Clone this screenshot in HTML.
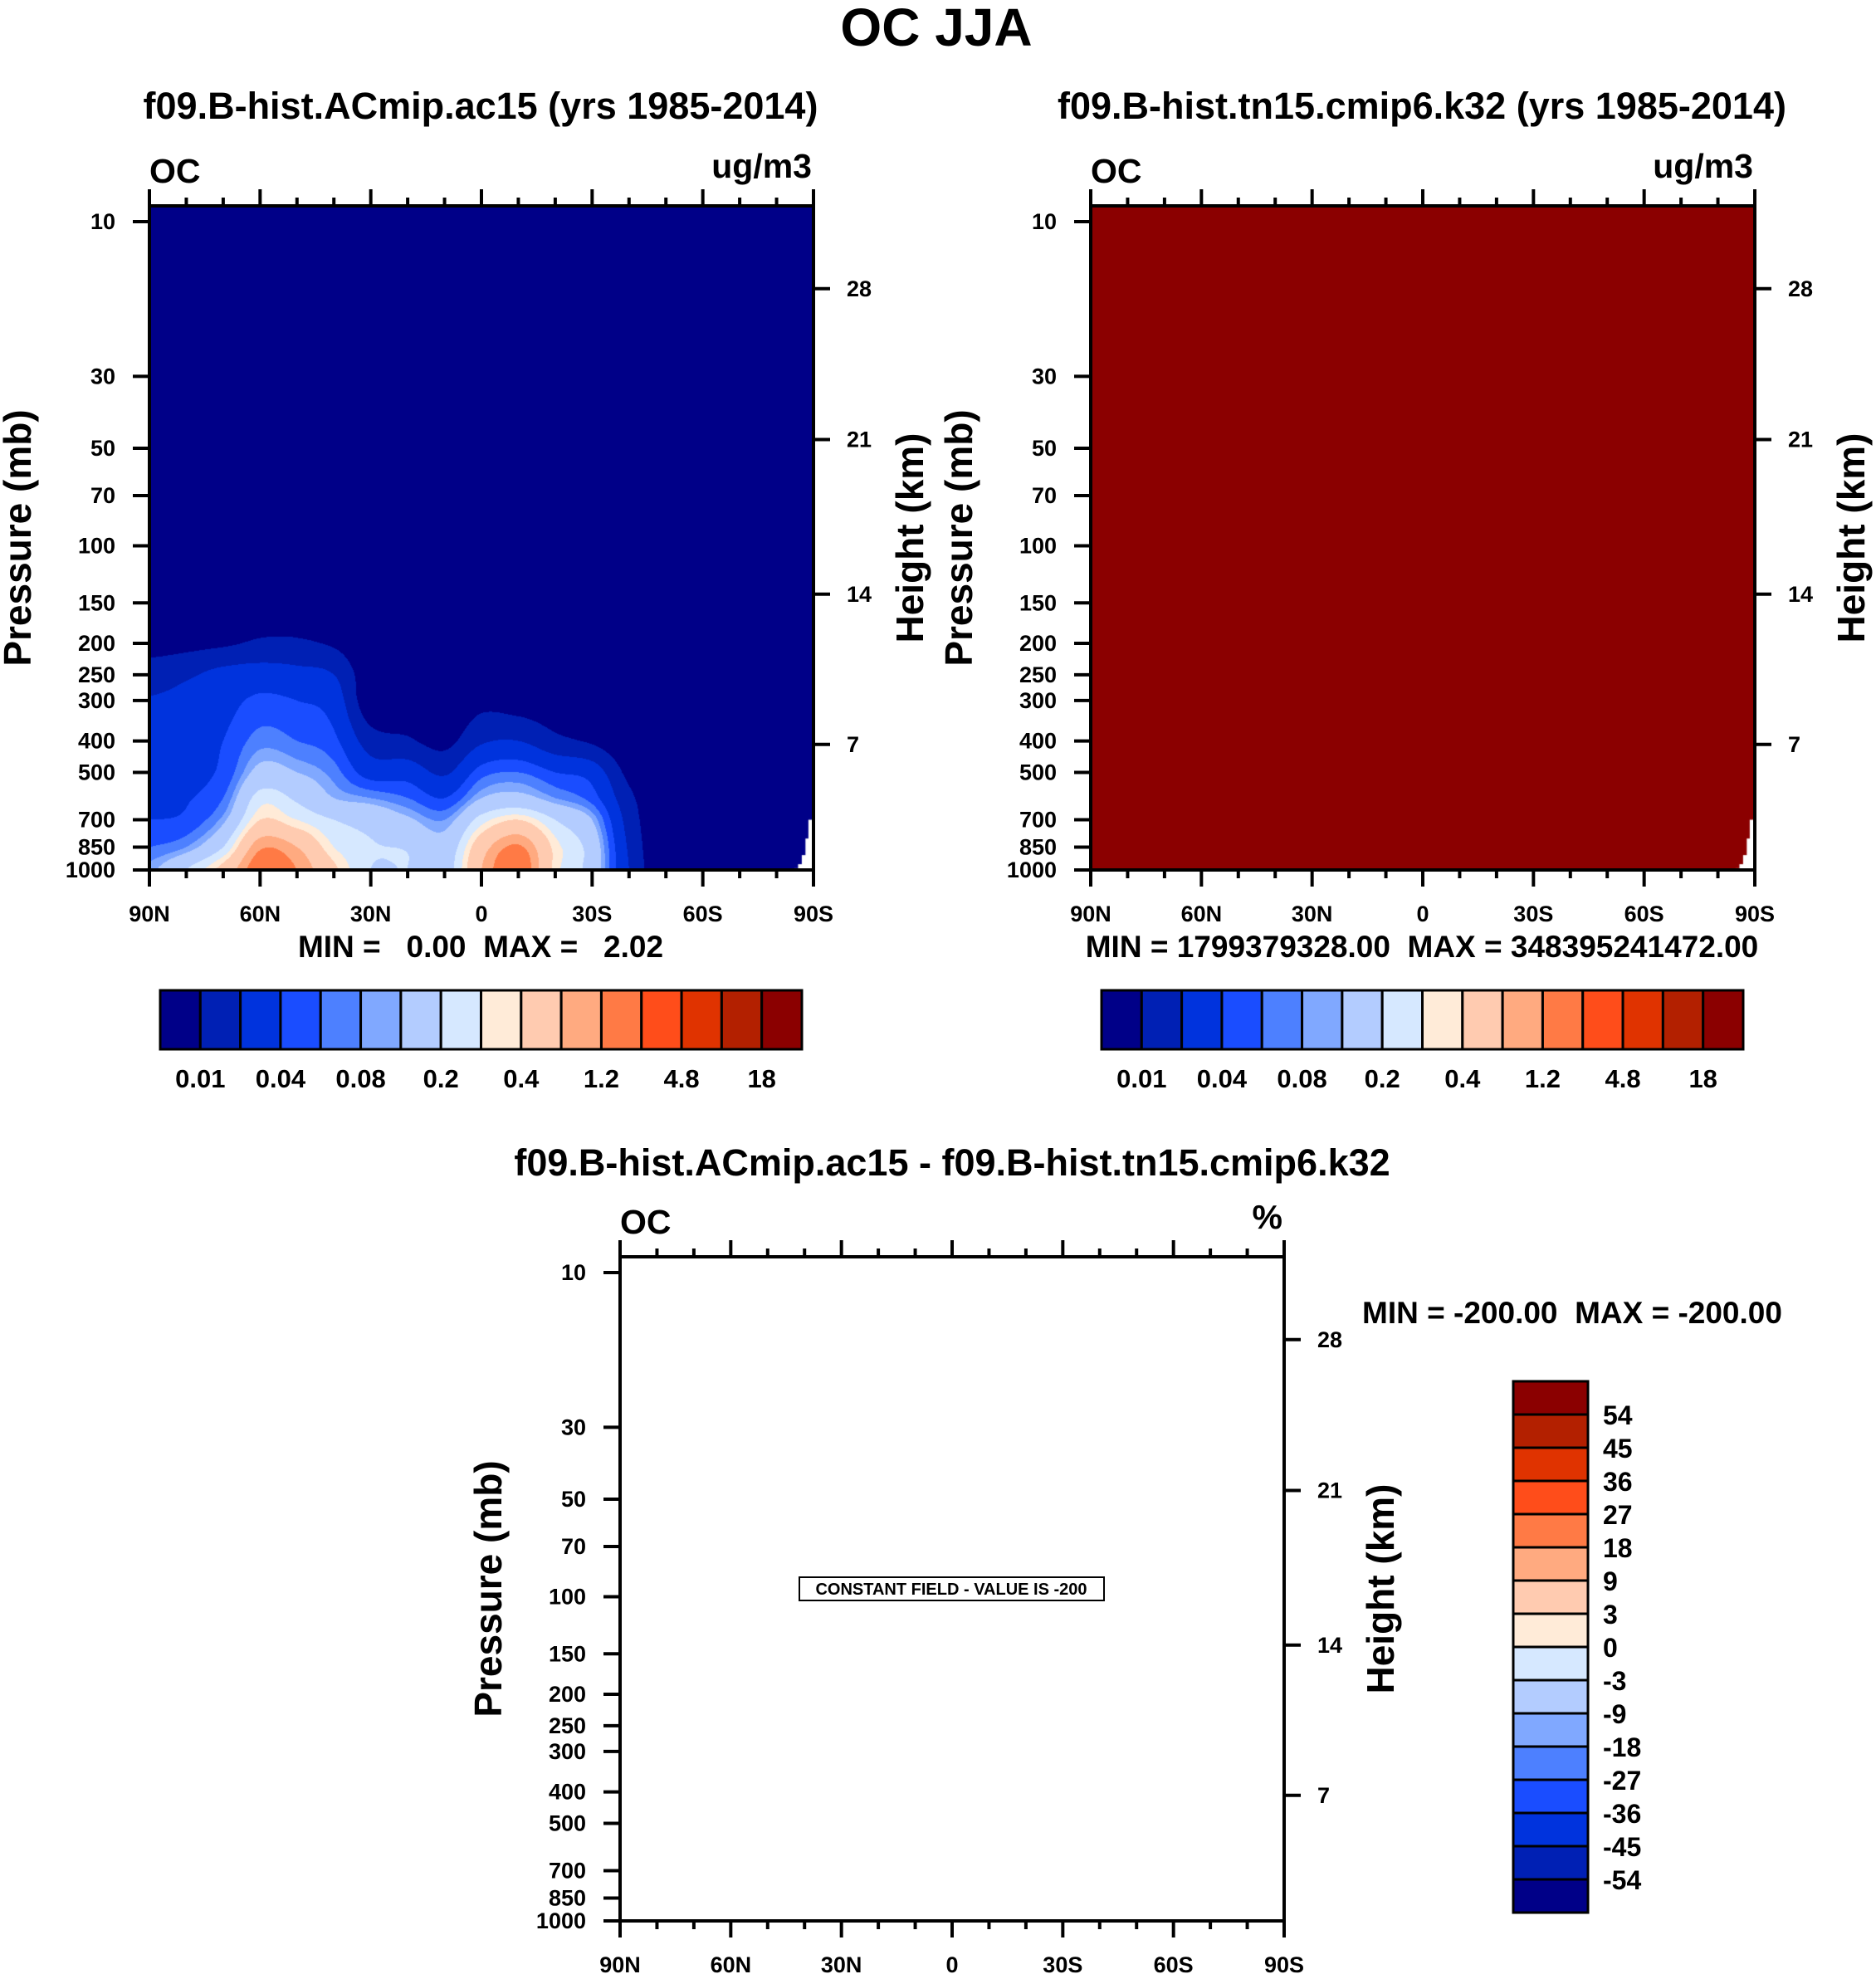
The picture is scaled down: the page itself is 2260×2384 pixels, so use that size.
<!DOCTYPE html>
<html><head><meta charset="utf-8">
<style>
html,body{margin:0;padding:0;background:#fff;}
body{width:2260px;height:2384px;position:relative;overflow:hidden;font-family:"Liberation Sans",sans-serif;}
canvas{position:absolute;}
svg{position:absolute;left:0;top:0;}
svg text{font-family:"Liberation Sans",sans-serif;font-weight:bold;fill:#000;white-space:pre;}
</style></head>
<body>
<canvas id="c1" width="800" height="800" style="left:180px;top:248px"></canvas>
<canvas id="c2" width="800" height="800" style="left:1314px;top:248px"></canvas>
<svg id="s" width="2260" height="2384" xmlns="http://www.w3.org/2000/svg"></svg>
<script>
// ---- data ----
const lats = [90,80,70,60,50,40,30,20,10,0,-10,-20,-30,-40,-50,-60,-70,-80,-90];
const levels = [10,100,150,200,250,300,400,500,600,700,850,1000];
const v10   = [0.001,0.001,0.001,0.001,0.001,0.001,0.001,0.001,0.001,0.001,0.001,0.001,0.001,0.001,0.001,0.001,0.001,0.001,0.001];
const v100  = [0.003,0.003,0.003,0.003,0.003,0.003,0.003,0.003,0.003,0.003,0.003,0.003,0.003,0.003,0.003,0.003,0.003,0.003,0.003];
const v150  = [0.004,0.005,0.005,0.006,0.006,0.005,0.004,0.004,0.004,0.004,0.004,0.004,0.004,0.003,0.003,0.003,0.003,0.003,0.003];
const v200  = [0.007,0.008,0.009,0.011,0.011,0.009,0.005,0.005,0.004,0.004,0.004,0.004,0.004,0.003,0.003,0.003,0.003,0.003,0.003];
const v250  = [0.015,0.018,0.025,0.028,0.025,0.02,0.006,0.005,0.004,0.005,0.005,0.004,0.004,0.003,0.003,0.003,0.003,0.003,0.003];
const v300  = [0.021,0.024,0.032,0.045,0.04,0.03,0.006,0.006,0.005,0.008,0.007,0.006,0.005,0.004,0.003,0.003,0.003,0.003,0.003];
const v400  = [0.028,0.03,0.04,0.07,0.06,0.045,0.014,0.011,0.008,0.018,0.02,0.012,0.009,0.005,0.003,0.003,0.003,0.003,0.003];
const v500  = [0.03,0.033,0.045,0.12,0.1,0.07,0.03,0.03,0.018,0.05,0.06,0.04,0.03,0.008,0.004,0.004,0.004,0.004,0.004];
const v600  = [0.035,0.038,0.06,0.25,0.18,0.1,0.08,0.06,0.04,0.1,0.12,0.08,0.05,0.012,0.005,0.005,0.005,0.005,0.005];
const v700  = [0.04,0.045,0.09,0.4,0.3,0.2,0.16,0.11,0.08,0.25,0.4,0.2,0.1,0.015,0.005,0.005,0.005,0.005,0.005];
const v850  = [0.06,0.08,0.2,1.1,0.8,0.3,0.21,0.19,0.13,0.6,1.3,0.35,0.15,0.018,0.005,0.005,0.005,0.005,0.005];
const v1000 = [0.09,0.2,0.5,1.7,1.2,0.45,0.2,0.2,0.15,0.8,1.9,0.35,0.15,0.02,0.005,0.005,0.005,0.005,0.005];
const thresholds = [0.01,0.02,0.04,0.06,0.08,0.1,0.2,0.3,0.4,0.8,1.2,2,4.8,10,18];
const cbLabels = ["0.01","0.04","0.08","0.2","0.4","1.2","4.8","18"];
const diffLabels = ["54","45","36","27","18","9","3","0","-3","-9","-18","-27","-36","-45","-54"];
const colors = ["#000088","#0020b4","#0033dd","#1a4dff","#4d80ff","#80a8ff","#b3ccff","#d6e8ff","#ffebd8","#ffcbb0","#ffaa80","#ff7a45","#ff4d1a","#e03300","#b32000","#8b0000"];
const yTicks = [10,30,50,70,100,150,200,250,300,400,500,700,850,1000];
const hTicksKm = [7,14,21,28];
const hTicksP = [410,141,47,16.1];
const xTickLats = [90,60,30,0,-30,-60,-90];
const xTickLabels = ["90N","60N","30N","0","30S","60S","90S"];
const missLat = [-85.5,-86.5,-87.5,-88.5,-89.3];
const missTopP = [990,960,900,800,700];
const rows = [v10,v100,v150,v200,v250,v300,v400,v500,v600,v700,v850,v1000];

const NS="http://www.w3.org/2000/svg";
const svg=document.getElementById('s');
function el(tag,attrs,parent){const e=document.createElementNS(NS,tag);for(const k in attrs)e.setAttribute(k,attrs[k]);(parent||svg).appendChild(e);return e;}
function txt(x,y,s,size,anchor,extra){const t=el('text',Object.assign({x:x,y:y,'font-size':size,'text-anchor':anchor||'middle'},extra||{}));t.textContent=s;return t;}

const W=800,H=800,DEC=390.5;
function yOf(p,top){return top+H-(3-Math.log10(p))*DEC;}
function xOf(lat,left){return left+(90-lat)/180*W;}
function pOfY(py){return Math.pow(10,3-(H-py)/DEC);}

function classify(v){let i=0;while(i<thresholds.length&&v>=thresholds[i])i++;return i;}
const logRows=rows.map(r=>r.map(v=>Math.log(v)));
const logLev=levels.map(p=>Math.log10(p));
function cr(p0,p1,p2,p3,t){return 0.5*((2*p1)+(-p0+p2)*t+(2*p0-5*p1+4*p2-p3)*t*t+(-p0+3*p1-3*p2+p3)*t*t*t);}
function rowAt(j,i,fx){const n=lats.length-1;const g=k=>logRows[j][Math.max(0,Math.min(n,k))];
  return cr(g(i-1),g(i),g(i+1),g(i+2),fx);}
function field(lat,p){
  let fl=(90-lat)/10;let i=Math.min(17,Math.max(0,Math.floor(fl)));let fx=fl-i;
  const lp=Math.log10(Math.max(p,10));
  let j=0;while(j<levels.length-2&&logLev[j+1]<lp)j++;
  let fy=Math.min(1,Math.max(0,(lp-logLev[j])/(logLev[j+1]-logLev[j])));
  const m=levels.length-1;const r=k=>rowAt(Math.max(0,Math.min(m,k)),i,fx);
  return Math.exp(cr(r(j-1),r(j),r(j+1),r(j+2),fy));
}
function hexRgb(h){return [parseInt(h.substr(1,2),16),parseInt(h.substr(3,2),16),parseInt(h.substr(5,2),16)];}
const rgb=colors.map(hexRgb);
function drawMissing(ctx){
  ctx.fillStyle="#fff";
  for(let k=0;k<missLat.length;k++){
    const x0=(90-missLat[k])/180*W-3;
    const y0=yOf(missTopP[k],0);
    ctx.fillRect(x0,y0,W-x0,H-y0);
  }
}
(function(){
  const ctx=document.getElementById('c1').getContext('2d');
  const img=ctx.createImageData(W,H);
  for(let py=0;py<H;py++){const p=pOfY(py+0.5);
    for(let px=0;px<W;px++){const lat=90-(px+0.5)/W*180;
      const c=rgb[classify(field(lat,p))];const o=(py*W+px)*4;
      img.data[o]=c[0];img.data[o+1]=c[1];img.data[o+2]=c[2];img.data[o+3]=255;}}
  ctx.putImageData(img,0,0);drawMissing(ctx);
})();
(function(){
  const ctx=document.getElementById('c2').getContext('2d');
  ctx.fillStyle=colors[15];ctx.fillRect(0,0,W,H);drawMissing(ctx);
})();

function drawAxes(left,top,name,unit,panel){
  const g=el('g',{});
  
  
  el('rect',{x:left,y:top,width:W,height:H,fill:'none',stroke:'#000','stroke-width':4},g);
  for(let lat=90;lat>=-90;lat-=10){
    const x=xOf(lat,left);const major=(lat%30===0);const L=major?20:10;
    el('line',{x1:x,y1:top,x2:x,y2:top-L,stroke:'#000','stroke-width':4},g);
    el('line',{x1:x,y1:top+H,x2:x,y2:top+H+L,stroke:'#000','stroke-width':4},g);
  }
  xTickLats.forEach((lat,i)=>{const t=txt(xOf(lat,left),top+H+62,xTickLabels[i],27,'middle');
    
    });
  yTicks.forEach(p=>{const y=yOf(p,top);
    el('line',{x1:left,y1:y,x2:left-20,y2:y,stroke:'#000','stroke-width':4},g);
    const t=txt(left-41,y+9,String(p),27,'end');
    
    });
  hTicksP.forEach((p,i)=>{const y=yOf(p,top);
    el('line',{x1:left+W,y1:y,x2:left+W+20,y2:y,stroke:'#000','stroke-width':4},g);
    const t=txt(left+W+40,y+9,String(hTicksKm[i]),27,'start');
    
    });
  const a=txt(left,top-28,name,41,'start');
  
  
  const u=txt(left+W-2,top-34,unit,41,'end');
  
  
  const yl=txt(0,0,'Pressure (mb)',46,'middle',{transform:`translate(${left-143},${top+H/2}) rotate(-90)`});
  
  
  const hl=txt(0,0,'Height (km)',46,'middle',{transform:`translate(${left+W+132},${top+H/2}) rotate(-90)`});
  
  
}
drawAxes(180,248,'OC','ug/m3','left');
drawAxes(1314,248,'OC','ug/m3','right');
drawAxes(747,1514,'OC','%','bottom');

function hColorbar(left,top,panel){
  const bw=(966-193)/16;
  colors.forEach((c,i)=>{const r=el('rect',{x:left+i*bw,y:top,width:bw,height:71,fill:c,stroke:'#000','stroke-width':3});
    
    });
  cbLabels.forEach((s,k)=>{const t=txt(left+(2*k+1)*bw,top+117,s,31,'middle');
    
    });
}
hColorbar(193,1193,'left');
hColorbar(1327,1193,'right');
(function(){
  const bh=40;
  for(let i=0;i<16;i++){const r=el('rect',{x:1823,y:1664+i*bh,width:90,height:bh,fill:colors[15-i],stroke:'#000','stroke-width':3});
    
    }
  diffLabels.forEach((s,k)=>{const t=txt(1931,1664+(k+1)*bh+12,s,32,'start');
    
    });
})();
el('rect',{x:963,y:1900,width:367,height:28,fill:'#fff',stroke:'#000','stroke-width':2});
const cf=txt(1146,1921,'CONSTANT FIELD - VALUE IS -200',20,'middle');



const titles=[
 [1128,55,'OC JJA',64,'main-title'],
 [579,143,'f09.B-hist.ACmip.ac15 (yrs 1985-2014)',45,'left-subtitle'],
 [1713,143,'f09.B-hist.tn15.cmip6.k32 (yrs 1985-2014)',45,'right-subtitle'],
 [1147,1416,'f09.B-hist.ACmip.ac15 - f09.B-hist.tn15.cmip6.k32',45,'bottom-subtitle'],
 [579,1153,'MIN =   0.00  MAX =   2.02',37,'left-minmax'],
 [1713,1153,'MIN = 1799379328.00  MAX = 348395241472.00',37,'right-minmax'],
 [1894,1594,'MIN = -200.00  MAX = -200.00',37,'bottom-minmax']
];
titles.forEach(a=>{const t=txt(a[0],a[1],a[2],a[3],'middle');
  
  });
</script>
</body></html>
